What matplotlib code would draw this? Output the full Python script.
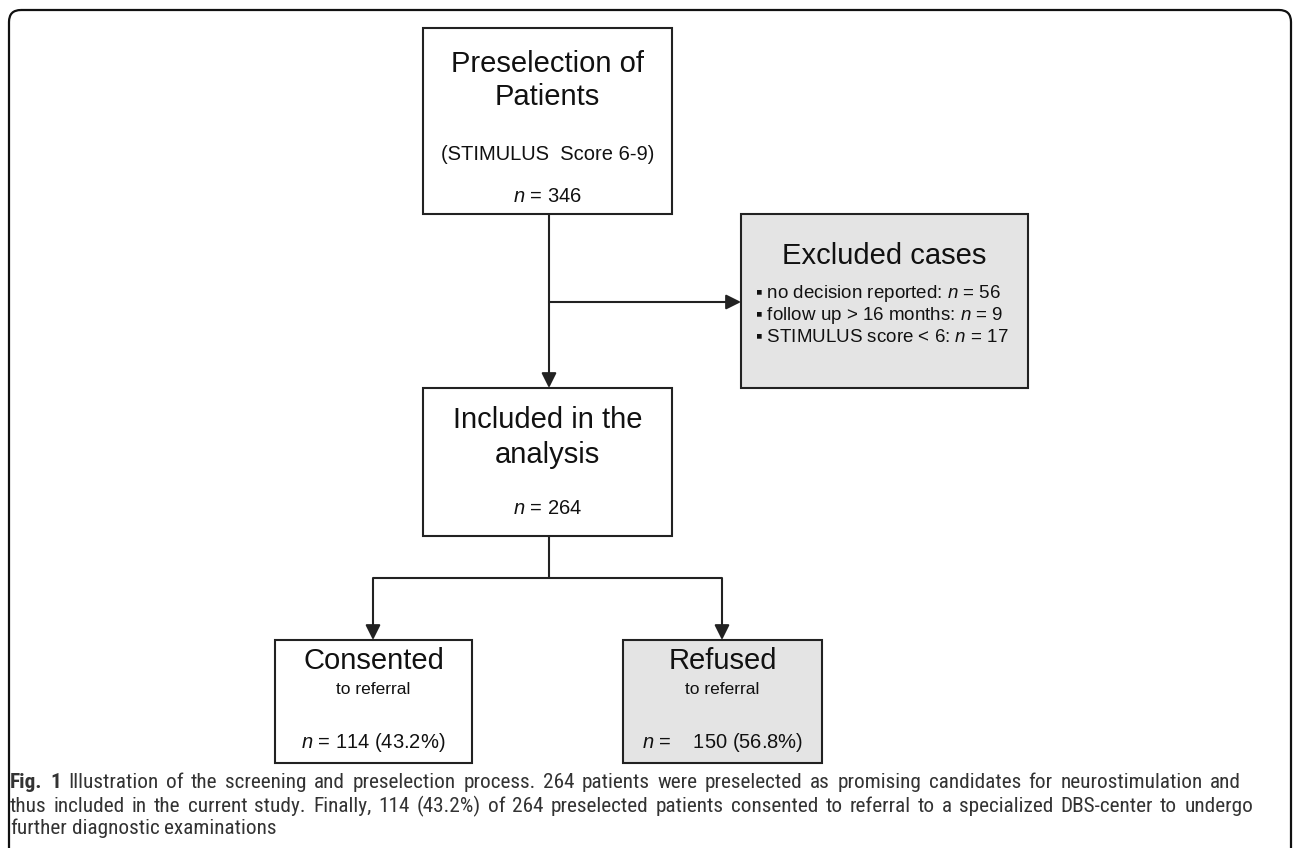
import matplotlib
matplotlib.use("Agg")
import matplotlib.pyplot as plt
from matplotlib.patches import Rectangle, FancyBboxPatch
from matplotlib import font_manager

# flow counts
preselected_n = 346
score_range = "6-9"
exclusion_reasons = ["no decision reported", "follow up > 16 months", "STIMULUS score < 6"]
exclusion_counts = [56, 9, 17]
included_n = 264
outcome_labels = ["Consented", "Refused"]
outcome_counts = [114, 150]

caption_bold = "Fig. 1"
caption_lines = [
    "Illustration of the screening and preselection process. 264 patients were preselected as promising candidates for neurostimulation and",
    "thus included in the current study. Finally, 114 (43.2%) of 264 preselected patients consented to referral to a specialized DBS-center to undergo",
    "further diagnostic examinations",
]
caption_right = [1241, 1253, None]  # where the justified lines end

BOX_FONT = "Liberation Sans"
names = {f.name for f in font_manager.fontManager.ttflist}
CAP_FONT = "Liberation Sans"
for cand in ["Roboto Condensed", "Liberation Sans Narrow", "Open Sans Condensed"]:
    if cand in names:
        CAP_FONT = cand
        break

plt.rcParams["mathtext.fontset"] = "custom"
plt.rcParams["mathtext.it"] = BOX_FONT + ":italic"
plt.rcParams["mathtext.rm"] = BOX_FONT

EDGE = "#222222"
GREY = "#e4e4e4"
LW = 1.5

fig = plt.figure(figsize=(12.93, 8.48), dpi=100)
ax = fig.add_axes([0, 0, 1, 1])
ax.set_xlim(0, 1293)
ax.set_ylim(848, 0)
ax.axis("off")

# outer frame (open at the bottom)
frame = FancyBboxPatch((9, 10), 1282, 900, boxstyle="round,pad=0,rounding_size=12",
                       fc="none", ec="#111111", lw=1.6, clip_on=True)
ax.add_patch(frame)


def box(x0, y0, x1, y1, fill="white"):
    ax.add_patch(Rectangle((x0, y0), x1 - x0, y1 - y0, fc=fill, ec=EDGE, lw=LW, zorder=2))


def txt(x, y, s, size, ha="center"):
    ax.text(x, y, s, fontsize=size, family=[BOX_FONT, "DejaVu Sans"], ha=ha, va="center",
            color="#111111", zorder=3)


def arrow(x0, y0, x1, y1):
    ax.annotate("", xy=(x1, y1), xytext=(x0, y0),
                arrowprops=dict(arrowstyle="-|>,head_length=0.9,head_width=0.45", color=EDGE,
                                lw=LW, shrinkA=0, shrinkB=0), zorder=1)


def line(xs, ys):
    ax.plot(xs, ys, color=EDGE, lw=LW, solid_capstyle="butt", zorder=1)


# top box
box(423, 28, 672, 214)
cx = (423 + 672) / 2
txt(cx, 64, "Preselection of", 21)
txt(cx, 97, "Patients", 21)
txt(cx, 155, "(STIMULUS  Score " + score_range + ")", 14.5)
txt(cx, 196, r"$n$ = %d" % preselected_n, 14.5)

# excluded
box(741, 214, 1028, 388, GREY)
txt((741 + 1028) / 2, 256, "Excluded cases", 21)
for i, (reason, cnt) in enumerate(zip(exclusion_reasons, exclusion_counts)):
    txt(755, 294 + 22 * i, "\u25aa " + reason + r": $n$ = %d" % cnt, 13.5, ha="left")

# vertical and side arrows
arrow(549, 214, 549, 388)
arrow(549, 302, 741, 302)

# included
box(423, 388, 672, 536)
txt(cx, 420, "Included in the", 21)
txt(cx, 455, "analysis", 21)
txt(cx, 508, r"$n$ = %d" % included_n, 14.5)

# branch
line([549, 549], [536, 578])
line([373, 722], [578, 578])
arrow(373, 578, 373, 640)
arrow(722, 578, 722, 640)

boxes = [(275, 472, "white"), (623, 822, GREY)]
gaps = ["", "   "]
for (x0, x1, fill), label, cnt, gap in zip(boxes, outcome_labels, outcome_counts, gaps):
    box(x0, 640, x1, 763, fill)
    bx = (x0 + x1) / 2
    txt(bx, 661, label, 21)
    txt(bx, 690, "to referral", 12.5)
    pct = 100 * cnt / included_n
    txt(bx, 742, r"$n$ = " + gap + "%d (%.1f%%)" % (cnt, pct), 14.5)

# caption, set word by word
fig.canvas.draw()
renderer = fig.canvas.get_renderer()
inv = ax.transData.inverted()


def width_of(s, size, weight="normal"):
    t = ax.text(0, 0, s, fontsize=size, family=CAP_FONT, weight=weight)
    bb = t.get_window_extent(renderer)
    t.remove()
    return inv.transform((bb.x1, 0))[0] - inv.transform((bb.x0, 0))[0]


cap_size = 0.96 * 13.0 * 1243 / width_of(caption_lines[1], 13.0)
space_w = width_of("a a", cap_size) - width_of("aa", cap_size)
cap_left = 10
cap_y = [783, 806, 829]
CAP_COLOR = "#333333"

for li, ln in enumerate(caption_lines):
    words = [(w, "normal") for w in ln.split(" ")]
    if li == 0:
        words = [(w, "bold") for w in caption_bold.split(" ")] + words
    widths = [width_of(w, cap_size, wt) for w, wt in words]
    if caption_right[li] is not None:
        gap = (caption_right[li] - cap_left - sum(widths)) / (len(words) - 1)
    else:
        gap = space_w
    x = cap_left
    for (w, wt), wd in zip(words, widths):
        ax.text(x, cap_y[li], w, fontsize=cap_size, family=CAP_FONT, weight=wt,
                ha="left", va="center", color=CAP_COLOR)
        x += wd + gap

fig.savefig("out.png", dpi=100)
